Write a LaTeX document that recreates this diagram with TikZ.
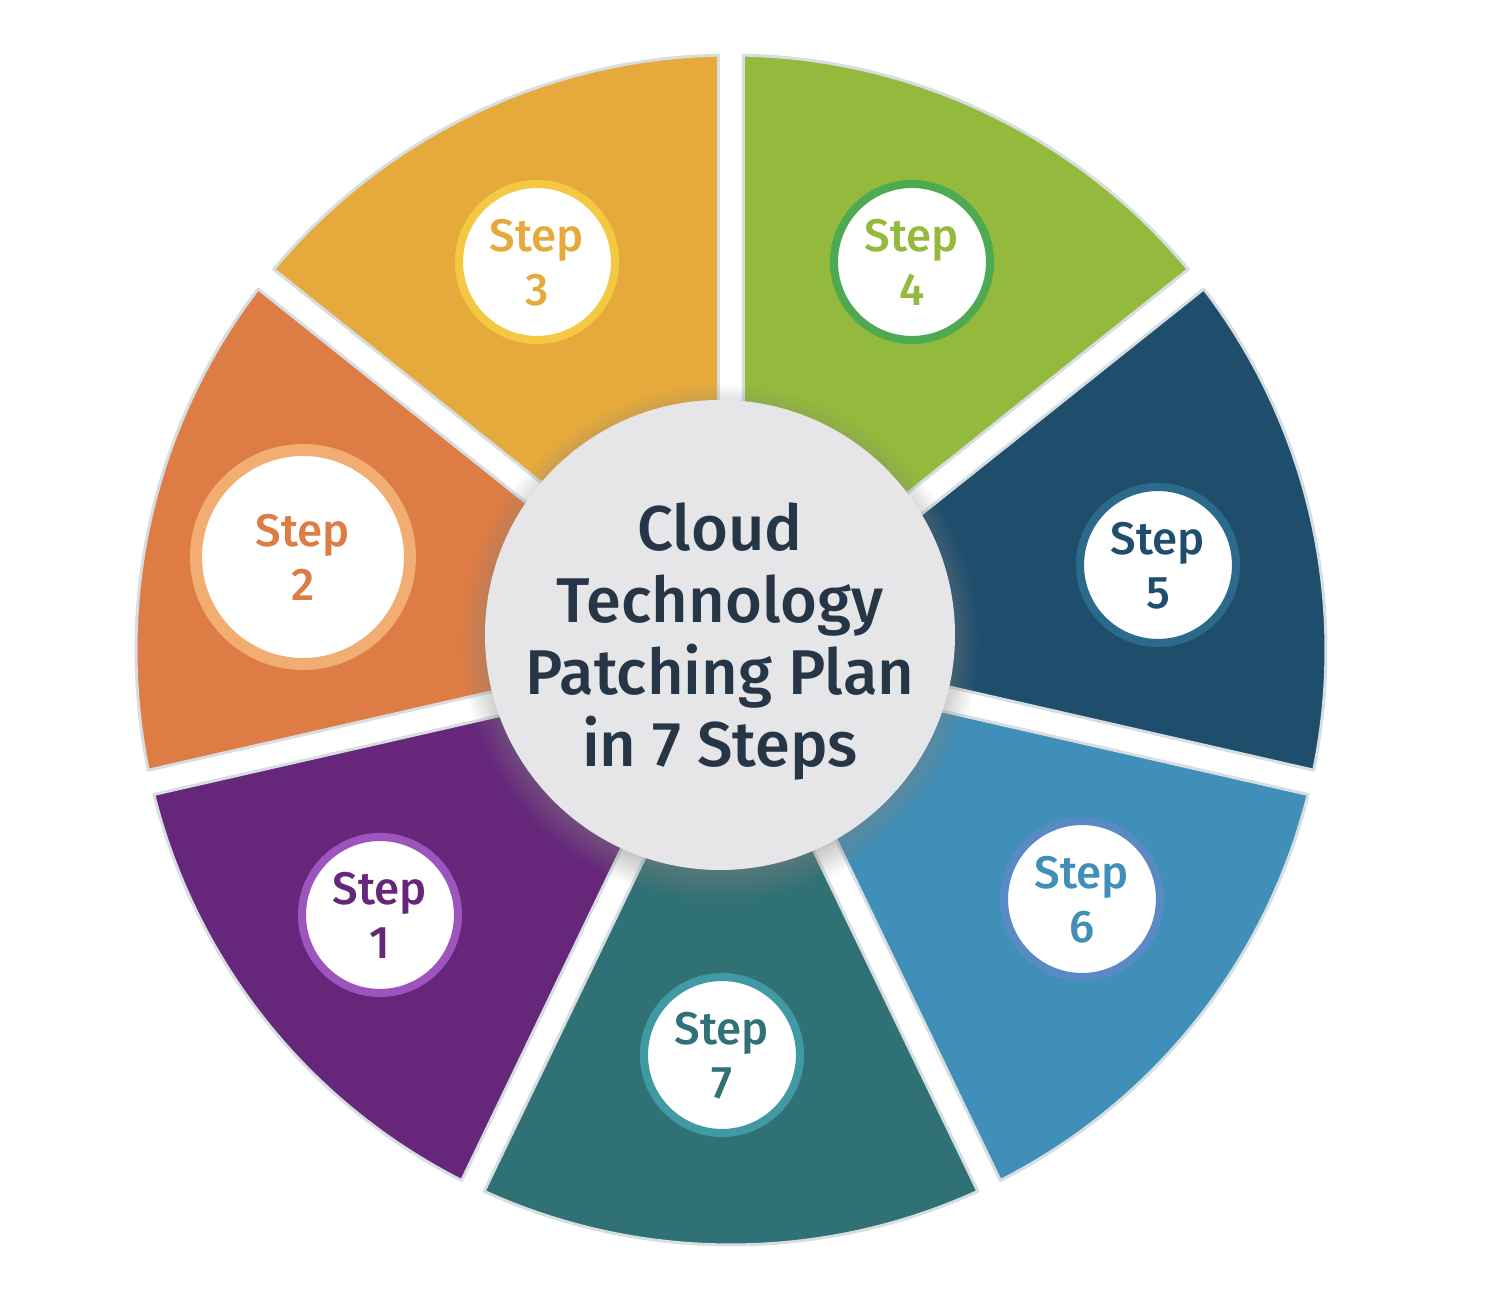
\documentclass[tikz,border=0pt]{standalone}
\usepackage{fontspec}
\setmainfont{Fira Sans Medium}
\usetikzlibrary{shadows}

% sector fills, ring colours and label colours
\definecolor{secone}{HTML}{66277B}
\definecolor{sectwo}{HTML}{DD7C45}
\definecolor{secthree}{HTML}{E6AA3C}
\definecolor{secfour}{HTML}{93BA3C}
\definecolor{secfive}{HTML}{1F4E6D}
\definecolor{secsix}{HTML}{3F8FB8}
\definecolor{secseven}{HTML}{307175}
\definecolor{ringone}{HTML}{9D55BD}
\definecolor{ringtwo}{HTML}{F2AE72}
\definecolor{ringthree}{HTML}{F5C842}
\definecolor{ringfour}{HTML}{4DAA50}
\definecolor{ringfive}{HTML}{2C6A8C}
\definecolor{ringsix}{HTML}{5A8AC6}
\definecolor{ringseven}{HTML}{3F9AA3}
\definecolor{rimgray}{HTML}{D6DEE1}
\definecolor{hubgray}{HTML}{E6E6E9}
\definecolor{hubtext}{HTML}{263646}

\tikzset{
    sector/.style={fill=#1, draw=rimgray, line width=0.85pt, line join=round},
    stepdisc/.style={circle, fill=white, draw=#1, line width=2.3pt,
        minimum size=1.56cm, inner sep=0pt, align=center, text depth=-2.3pt,
        font=\fontsize{13}{15.4}\selectfont},
    hub/.style={circle, fill=hubgray, minimum size=4.7cm, inner sep=0pt,
        align=center, text=hubtext, text depth=0pt,
        font=\fontsize{18}{20.5}\selectfont,
        circular drop shadow={shadow scale=1.1, shadow xshift=0pt,
            shadow yshift=-2pt, opacity=0.55}}
}

\begin{document}
\begin{tikzpicture}
    \def\R{5.95}
    % half gap 0.125 -> apex of each wedge sits 0.125/sin(360/14) out
    \def\apex{0.288}
    \def\dlt{1.2}
    \def\half{25.714}

    \useasboundingbox (-7.31,-6.44) rectangle (7.55,6.50);

    % Seven wedges, step 7 pointing down, counting clockwise
    \foreach \k/\col in {1/secone, 2/sectwo, 3/secthree, 4/secfour,
                         5/secfive, 6/secsix, 7/secseven}{
        \pgfmathsetmacro{\mid}{270+(7-\k)*360/7}
        \pgfmathsetmacro{\sa}{\mid-\half+\dlt}
        \pgfmathsetmacro{\ea}{\mid+\half-\dlt}
        \draw[sector=\col] (\mid:\apex) -- (\sa:\R)
            arc[start angle=\sa, end angle=\ea, radius=\R] -- cycle;
    }

    % Hub
    \node[hub] (hub) at (-0.11,0.15) {Cloud\\Technology\\Patching Plan\\in 7 Steps};

    % Step discs
    \foreach \k/\pos/\ring/\col in {1/{(-3.51,-2.65)}/ringone/secone,
                                    3/{(-1.94,3.88)}/ringthree/secthree,
                                    4/{(1.81,3.88)}/ringfour/secfour,
                                    5/{(4.27,0.85)}/ringfive/secfive,
                                    6/{(3.51,-2.49)}/ringsix/secsix,
                                    7/{(-0.09,-4.05)}/ringseven/secseven}{
        \node[stepdisc=\ring, text=\col] (step\k) at \pos {Step\\\k};
    }
    % Step 2 has the larger disc and thicker ring
    \node[stepdisc=ringtwo, text=sectwo, minimum size=2.14cm, line width=3.4pt]
        (step2) at (-4.28,0.93) {Step\\2};
\end{tikzpicture}
\end{document}
